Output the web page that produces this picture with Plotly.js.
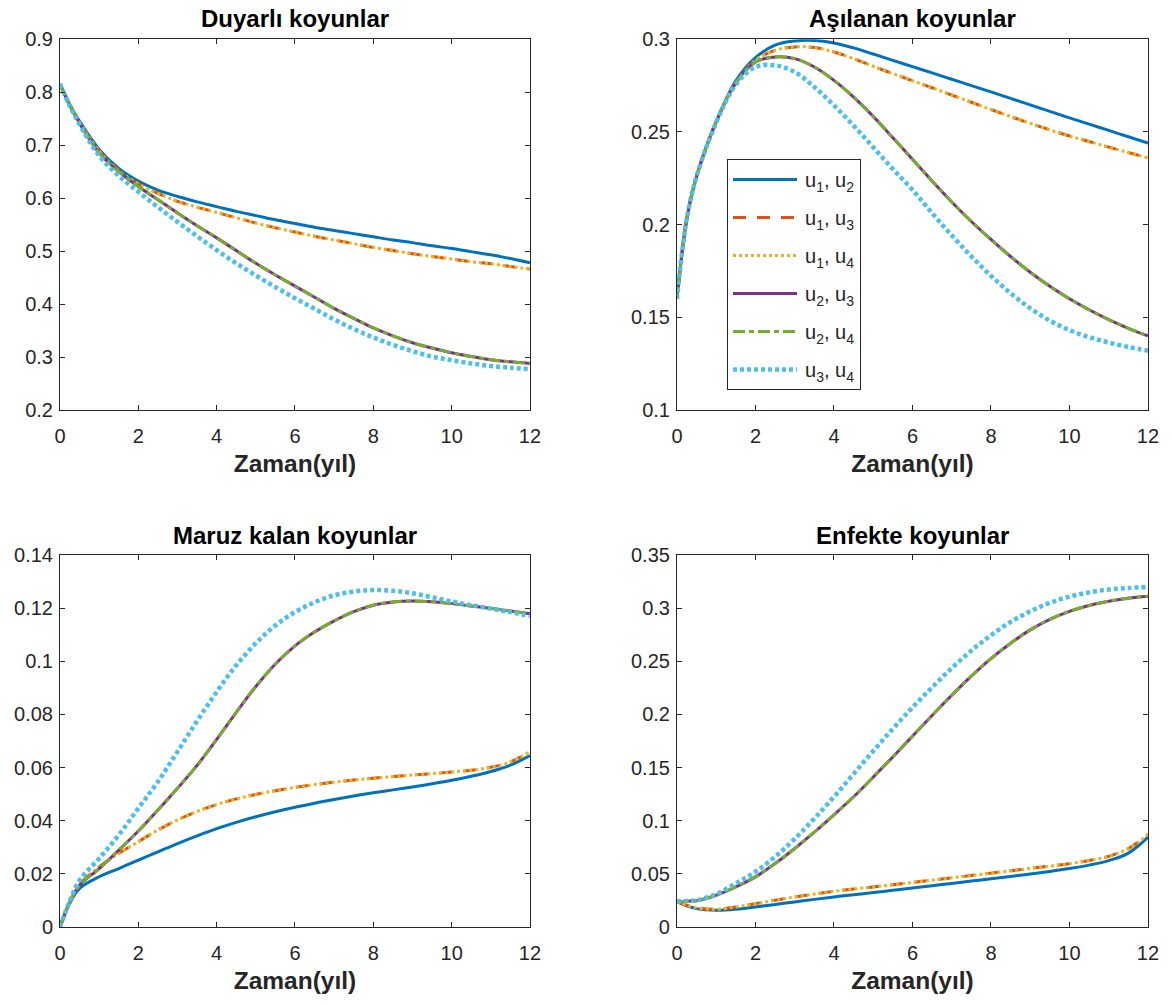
<!DOCTYPE html>
<html>
<head>
<meta charset="utf-8">
<script src="https://cdn.plot.ly/plotly-3.0.1.min.js"></script>
<style>html,body{margin:0;padding:0;background:#fff;}#chart{width:1172px;height:1005px;}</style>
</head>
<body>
<div id="chart"></div>
<script>
// time samples (years)
const t = [0,0.25,0.5,1,1.5,2,2.5,3,3.5,4,4.5,5,5.5,6,6.5,7,7.5,8,8.5,9,9.5,10,10.5,11,11.5,12];

const seriesNames = ['u<sub>1</sub>, u<sub>2</sub>','u<sub>1</sub>, u<sub>3</sub>','u<sub>1</sub>, u<sub>4</sub>','u<sub>2</sub>, u<sub>3</sub>','u<sub>2</sub>, u<sub>4</sub>','u<sub>3</sub>, u<sub>4</sub>'];
const panelTitles = ['Duyarlı koyunlar','Aşılanan koyunlar','Maruz kalan koyunlar','Enfekte koyunlar'];
const xTitle = 'Zaman(yıl)';

// Duyarlı koyunlar (susceptible)
const S_u1u2 = [0.815,0.777,0.745,0.692,0.656,0.632,0.615,0.603,0.593,0.584,0.575,0.567,0.559,0.552,0.545,0.539,0.533,0.527,0.521,0.516,0.510,0.505,0.499,0.493,0.486,0.478];
const S_u1u3 = [0.815,0.776,0.743,0.689,0.652,0.627,0.609,0.594,0.583,0.573,0.563,0.553,0.544,0.536,0.528,0.521,0.514,0.507,0.501,0.495,0.490,0.485,0.480,0.476,0.471,0.466];
const S_u1u4 = [0.815,0.776,0.743,0.689,0.652,0.627,0.609,0.594,0.583,0.573,0.563,0.553,0.544,0.536,0.528,0.521,0.514,0.507,0.501,0.495,0.490,0.485,0.480,0.476,0.471,0.466];
const S_u2u3 = [0.815,0.775,0.741,0.685,0.650,0.622,0.597,0.572,0.548,0.525,0.501,0.477,0.455,0.434,0.413,0.392,0.373,0.355,0.340,0.327,0.317,0.308,0.301,0.295,0.291,0.288];
const S_u2u4 = [0.815,0.775,0.741,0.685,0.650,0.622,0.597,0.572,0.548,0.525,0.501,0.477,0.455,0.434,0.413,0.392,0.373,0.355,0.340,0.327,0.317,0.308,0.301,0.295,0.291,0.288];
const S_u3u4 = [0.815,0.774,0.739,0.680,0.642,0.612,0.583,0.555,0.528,0.502,0.477,0.454,0.432,0.411,0.391,0.371,0.353,0.337,0.323,0.311,0.301,0.294,0.288,0.283,0.280,0.277];

// Aşılanan koyunlar (vaccinated)
const V_u1u2 = [0.160,0.203,0.226,0.2555,0.2775,0.290,0.2968,0.299,0.2993,0.298,0.2953,0.2920,0.2886,0.2852,0.2818,0.2784,0.2750,0.2716,0.2681,0.2646,0.2611,0.2576,0.2542,0.2508,0.2474,0.244];
const V_u1u3 = [0.160,0.203,0.226,0.2555,0.2765,0.2886,0.294,0.2958,0.2955,0.2931,0.2895,0.2854,0.2814,0.2776,0.2738,0.2699,0.2660,0.2621,0.2583,0.2546,0.2511,0.2478,0.2448,0.2418,0.2389,0.236];
const V_u1u4 = [0.160,0.203,0.226,0.2555,0.2765,0.2886,0.294,0.2958,0.2955,0.2931,0.2895,0.2854,0.2814,0.2776,0.2738,0.2699,0.2660,0.2621,0.2583,0.2546,0.2511,0.2478,0.2448,0.2418,0.2389,0.236];
const V_u2u3 = [0.160,0.203,0.226,0.2555,0.2765,0.2877,0.2904,0.2895,0.285,0.2778,0.2688,0.2584,0.2469,0.2352,0.2235,0.2122,0.2017,0.1920,0.1828,0.1743,0.1667,0.1600,0.1541,0.1488,0.1441,0.140];
const V_u2u4 = [0.160,0.203,0.226,0.2555,0.2765,0.2877,0.2904,0.2895,0.285,0.2778,0.2688,0.2584,0.2469,0.2352,0.2235,0.2122,0.2017,0.1920,0.1828,0.1743,0.1667,0.1600,0.1541,0.1488,0.1441,0.140];
const V_u3u4 = [0.160,0.203,0.226,0.255,0.2755,0.285,0.2859,0.2823,0.2742,0.2643,0.2534,0.2417,0.2300,0.2188,0.2062,0.1942,0.1829,0.1724,0.1630,0.1549,0.1482,0.1431,0.1393,0.1364,0.1340,0.132];

// Maruz kalan koyunlar (exposed)
const E_u1u2 = [0,0.009,0.0145,0.0189,0.022,0.0252,0.0283,0.0314,0.0343,0.0370,0.0394,0.0415,0.0434,0.0451,0.0466,0.0480,0.0493,0.0505,0.0516,0.0527,0.0539,0.0552,0.0567,0.0585,0.0609,0.0645];
const E_u1u3 = [0,0.009,0.0160,0.0226,0.0277,0.0321,0.0365,0.0403,0.0435,0.0461,0.0482,0.0499,0.0513,0.0525,0.0536,0.0545,0.0553,0.0560,0.0566,0.0572,0.0577,0.0583,0.0590,0.0601,0.0621,0.066];
const E_u1u4 = [0,0.009,0.0160,0.0226,0.0277,0.0321,0.0365,0.0403,0.0435,0.0461,0.0482,0.0499,0.0513,0.0525,0.0536,0.0545,0.0553,0.0560,0.0566,0.0572,0.0577,0.0583,0.0590,0.0601,0.0621,0.066];
const E_u2u3 = [0,0.0095,0.0157,0.022,0.0289,0.0361,0.044,0.0522,0.0608,0.0706,0.0808,0.0905,0.0990,0.1058,0.1110,0.1152,0.1187,0.1211,0.1223,0.1227,0.1224,0.1217,0.1208,0.1199,0.1189,0.1179];
const E_u2u4 = [0,0.0095,0.0157,0.022,0.0289,0.0361,0.044,0.0522,0.0608,0.0706,0.0808,0.0905,0.0990,0.1058,0.1110,0.1152,0.1187,0.1211,0.1223,0.1227,0.1224,0.1217,0.1208,0.1199,0.1189,0.1179];
const E_u3u4 = [0,0.0098,0.0176,0.0258,0.0346,0.0447,0.0547,0.066,0.0775,0.0885,0.0985,0.1068,0.1135,0.1185,0.1222,0.1248,0.1262,0.1268,0.1265,0.1256,0.1241,0.1225,0.1211,0.1198,0.1185,0.117];

// Enfekte koyunlar (infected)
const I_u1u2 = [0.024,0.020,0.0173,0.0157,0.0167,0.0189,0.0212,0.0236,0.026,0.0283,0.0304,0.0324,0.0345,0.0366,0.0388,0.0410,0.0432,0.0454,0.0476,0.0499,0.0523,0.0550,0.0582,0.0625,0.0695,0.0845];
const I_u1u3 = [0.024,0.0205,0.018,0.0167,0.0189,0.022,0.0252,0.0283,0.031,0.0336,0.0357,0.0377,0.0397,0.0419,0.0441,0.0463,0.0485,0.0507,0.0529,0.0551,0.0573,0.0596,0.0625,0.0665,0.0738,0.087];
const I_u1u4 = [0.024,0.0205,0.018,0.0167,0.0189,0.022,0.0252,0.0283,0.031,0.0336,0.0357,0.0377,0.0397,0.0419,0.0441,0.0463,0.0485,0.0507,0.0529,0.0551,0.0573,0.0596,0.0625,0.0665,0.0738,0.087];
const I_u2u3 = [0.024,0.0243,0.0248,0.0299,0.0377,0.0472,0.0597,0.0739,0.0892,0.1055,0.1225,0.1410,0.1600,0.1795,0.1990,0.2180,0.2360,0.2525,0.2670,0.2795,0.2895,0.2970,0.3025,0.3065,0.3093,0.3112];
const I_u2u4 = [0.024,0.0243,0.0248,0.0299,0.0377,0.0472,0.0597,0.0739,0.0892,0.1055,0.1225,0.1410,0.1600,0.1795,0.1990,0.2180,0.2360,0.2525,0.2670,0.2795,0.2895,0.2970,0.3025,0.3065,0.3093,0.3112];
const I_u3u4 = [0.024,0.0245,0.0252,0.031,0.041,0.052,0.066,0.083,0.102,0.1225,0.144,0.1655,0.1865,0.2065,0.2255,0.2435,0.2600,0.2745,0.2870,0.2970,0.3050,0.3108,0.3148,0.3175,0.3190,0.3198];

const panels = [
  [S_u1u2,S_u1u3,S_u1u4,S_u2u3,S_u2u4,S_u3u4],
  [V_u1u2,V_u1u3,V_u1u4,V_u2u3,V_u2u4,V_u3u4],
  [E_u1u2,E_u1u3,E_u1u4,E_u2u3,E_u2u4,E_u3u4],
  [I_u1u2,I_u1u3,I_u1u4,I_u2u3,I_u2u4,I_u3u4]
];

const styles = [
  {color:'#0072BD', width:3, dash:'solid'},
  {color:'#D95319', width:3, dash:'13px,11px'},
  {color:'#EDB120', width:3, dash:'3px,3px'},
  {color:'#7E2F8E', width:3, dash:'solid'},
  {color:'#77AC30', width:3, dash:'12px,4px,5px,4px'},
  {color:'#4DBEEE', width:4.5, dash:'4px,3px'}
];

const traces = [];
panels.forEach((p, pi) => {
  const sfx = pi === 0 ? '' : String(pi + 1);
  p.forEach((ys, si) => {
    traces.push({
      x: t, y: ys, type: 'scatter', mode: 'lines',
      name: seriesNames[si], legendgroup: 'g' + si,
      line: {color: styles[si].color, width: styles[si].width, dash: styles[si].dash, shape: 'spline', smoothing: 1},
      xaxis: 'x' + sfx, yaxis: 'y' + sfx,
      showlegend: pi === 1
    });
  });
});

const font = 'Liberation Sans, Arial, sans-serif';
const ink = '#262626';
function xax(dom, anchor) {
  return {domain: dom, anchor: anchor, range: [0, 12], dtick: 2, tick0: 0,
    showline: true, mirror: 'ticks', ticks: 'inside', ticklen: 5, tickcolor: ink,
    linecolor: ink, linewidth: 1, showgrid: false, zeroline: false, ticklabelstandoff: 8,
    tickfont: {family: font, size: 20, color: ink},
    title: {text: '<b>' + xTitle + '</b>', font: {family: font, size: 24.5, color: ink}, standoff: 8}};
}
function yax(dom, anchor, rng, dt) {
  return {domain: dom, anchor: anchor, range: rng, dtick: dt, tick0: 0,
    showline: true, mirror: 'ticks', ticks: 'inside', ticklen: 5, tickcolor: ink,
    linecolor: ink, linewidth: 1, showgrid: false, zeroline: false, ticklabelstandoff: 2,
    tickfont: {family: font, size: 20, color: ink}};
}
const L = [0.0512, 0.4522], R = [0.5776, 0.9795], T = [0.592, 0.961], B = [0.0776, 0.4478];

const layout = {
  width: 1172, height: 1005,
  margin: {l: 0, r: 0, t: 0, b: 0},
  paper_bgcolor: '#fff', plot_bgcolor: '#fff',
  font: {family: font, color: ink},
  xaxis: xax(L, 'y'), yaxis: yax(T, 'x', [0.2, 0.9], 0.1),
  xaxis2: xax(R, 'y2'), yaxis2: yax(T, 'x2', [0.1, 0.3], 0.05),
  xaxis3: xax(L, 'y3'), yaxis3: yax(B, 'x3', [0, 0.14], 0.02),
  xaxis4: xax(R, 'y4'), yaxis4: yax(B, 'x4', [0, 0.35], 0.05),
  legend: {x: 727/1172, y: 1 - 159/1005, xref: 'paper', yref: 'paper', xanchor: 'left', yanchor: 'top',
    bgcolor: '#fff', bordercolor: ink, borderwidth: 1, itemwidth: 67, tracegroupgap: 9,
    font: {family: font, size: 20, color: ink}, traceorder: 'grouped', itemclick: false, itemdoubleclick: false},
  annotations: [
    {text: '<b>' + panelTitles[0] + '</b>', x: (L[0]+L[1])/2, y: 0.982},
    {text: '<b>' + panelTitles[1] + '</b>', x: (R[0]+R[1])/2, y: 0.982},
    {text: '<b>' + panelTitles[2] + '</b>', x: (L[0]+L[1])/2, y: 0.467},
    {text: '<b>' + panelTitles[3] + '</b>', x: (R[0]+R[1])/2, y: 0.467}
  ].map(a => Object.assign(a, {xref: 'paper', yref: 'paper', showarrow: false, xanchor: 'center', yanchor: 'middle',
    font: {family: font, size: 24, color: '#000'}}))
};

Plotly.newPlot('chart', traces, layout, {displayModeBar: false, responsive: false}).then(gd => {
  // lengthen the legend line samples to fill the item width
  gd.querySelectorAll('.legend g.legendlines path.js-line').forEach(p => p.setAttribute('d', 'M5,0h64'));
});
</script>
</body>
</html>
